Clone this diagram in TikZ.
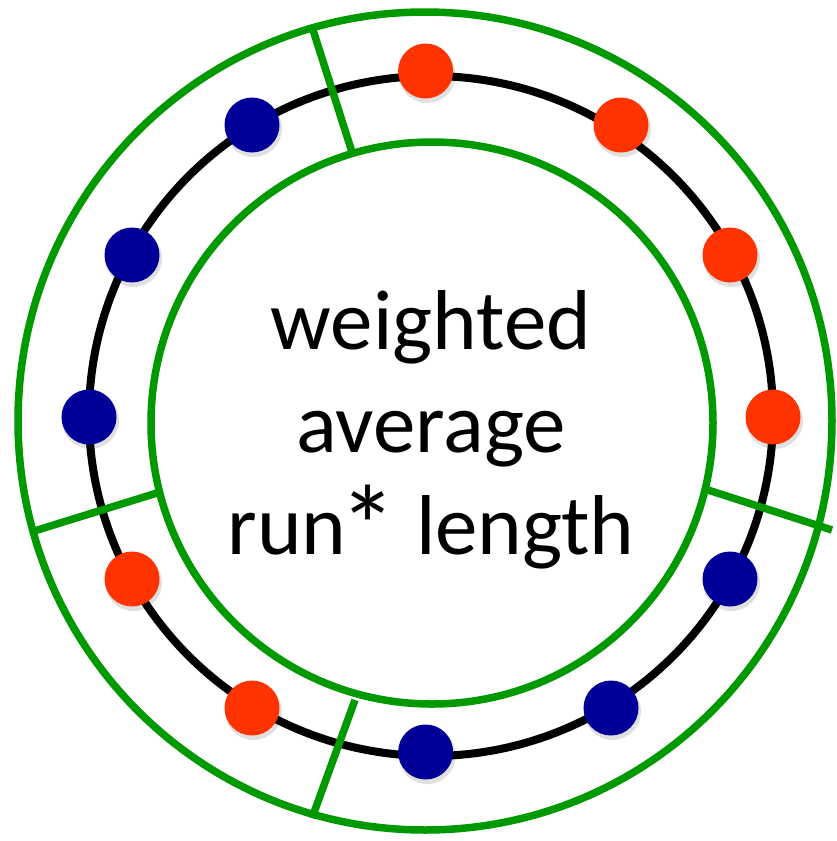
\documentclass[tikz,border=0pt]{standalone}
\usepackage{fontspec}
\usepackage{graphicx}
\setmainfont{Carlito}
\definecolor{ringgreen}{RGB}{0,153,0}
\definecolor{dotred}{RGB}{255,51,0}
\definecolor{dotblue}{RGB}{0,0,153}
\tikzset{
  greenline/.style={draw=ringgreen, line width=7.5pt},
  blackline/.style={draw=black, line width=8pt},
  dotbase/.style={circle, minimum size=55pt, inner sep=0pt},
  reddot/.style={dotbase, fill=dotred},
  bluedot/.style={dotbase, fill=dotblue},
  dotshadow/.style={fill=black, opacity=0.12},
}
\newcommand{\bigstar}{\kern-0.08em\raisebox{-0.14em}{\scalebox{1.35}{*}}}
\begin{document}
\begin{tikzpicture}[x=1pt,y=-1pt]
\useasboundingbox (0,0) rectangle (836,841);
\fill[white] (0,0) rectangle (836,841);
% rings
\draw[greenline] (425,421) ellipse [x radius=407pt, y radius=409pt];
\draw[greenline] (432,423) circle [radius=281pt];
\draw[blackline] (431,416) ellipse [x radius=342pt, y radius=340pt];
% separators
\coordinate (s1o) at (313,30);  \coordinate (s1i) at (352,152);
\coordinate (s2i) at (708,490); \coordinate (s2o) at (832,530);
\coordinate (s3o) at (31,532);  \coordinate (s3i) at (157,493);
\coordinate (s4i) at (355,700); \coordinate (s4o) at (312,818);
\draw[greenline] (s1o) -- (s1i);
\draw[greenline] (s2i) -- (s2o);
\draw[greenline] (s3o) -- (s3i);
\draw[greenline] (s4i) -- (s4o);
% dot shadows
\foreach \p in {(425.6,71),(621,125),(730,255),(773,417),(730,579),(611,708),(425.6,752),(252,708),(132,579),(89,417),(132,255),(252,125)}{
  \fill[dotshadow] \p ++(1.5,3.5) circle [radius=28.5pt];
}
% dots
\node[reddot]  (d90)  at (425.6,71) {};
\node[reddot]  (d60)  at (621,125) {};
\node[reddot]  (d30)  at (730,255) {};
\node[reddot]  (d0)   at (773,417) {};
\node[bluedot] (dm30) at (730,579) {};
\node[bluedot] (dm60) at (611,708) {};
\node[bluedot] (dm90) at (425.6,752) {};
\node[reddot]  (dm120) at (252,708) {};
\node[reddot]  (dm150) at (132,579) {};
\node[bluedot] (d180) at (89,417) {};
\node[bluedot] (d150) at (132,255) {};
\node[bluedot] (d120) at (252,125) {};
% label
\node[inner sep=0pt, align=center, font=\fontsize{85}{102.5}\selectfont] (label) at (431,430) {weighted\\average\\run\bigstar{} length};
\end{tikzpicture}
\end{document}
